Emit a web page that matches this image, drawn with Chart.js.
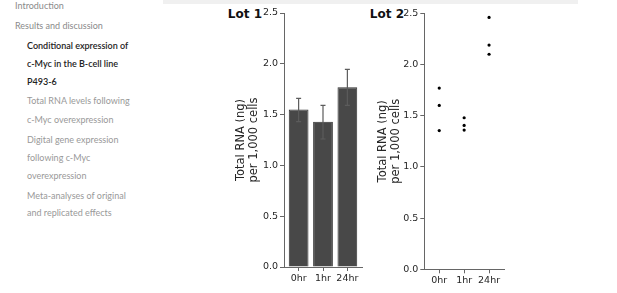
<!DOCTYPE html>
<html><head><meta charset="utf-8">
<script src="https://cdn.jsdelivr.net/npm/chart.js@4.4.0/dist/chart.umd.min.js"></script>
<style>
html,body{margin:0;padding:0;background:#fff;width:617px;height:293px;overflow:hidden;position:relative;font-family:Lato,"Open Sans",sans-serif}
.nav{position:absolute;font-size:9px;white-space:nowrap;line-height:12px;height:12px;margin-top:-6px;color:#999}
.nav.top{left:15px;color:#8a8a8a}
.nav.sub{left:27px}
.nav.act{color:#222;font-weight:600}
.band{position:absolute;left:163px;top:0;width:415px;height:4px;background:#f0f0f0}
.ttl{position:absolute;font-family:"DejaVu Sans";font-weight:bold;font-size:12px;line-height:14px;top:7px;text-align:right;color:#111}
canvas{position:absolute;top:0}
</style></head>
<body>
<div class="band"></div>
<div class="nav top" style="top:6px">Introduction</div>
<div class="nav top" style="top:26px">Results and discussion</div>
<div class="nav sub act" style="top:46px">Conditional expression of</div>
<div class="nav sub act" style="top:64px">c-Myc in the B-cell line</div>
<div class="nav sub act" style="top:82px">P493-6</div>
<div class="nav sub" style="top:101px">Total RNA levels following</div>
<div class="nav sub" style="top:120px">c-Myc overexpression</div>
<div class="nav sub" style="top:140px">Digital gene expression</div>
<div class="nav sub" style="top:158px">following c-Myc</div>
<div class="nav sub" style="top:176px">overexpression</div>
<div class="nav sub" style="top:196px">Meta-analyses of original</div>
<div class="nav sub" style="top:213px">and replicated effects</div>

<div class="ttl" style="right:355px">Lot 1</div>
<div class="ttl" style="right:213px">Lot 2</div>

<canvas id="c1" width="135" height="293" style="left:235px"></canvas>
<canvas id="c2" width="140" height="293" style="left:377px"></canvas>

<script>
const categories = ['0hr', '1hr', '24hr'];
const lot1Means = [1.55, 1.43, 1.77];
const lot1Low = [1.43, 1.26, 1.59];
const lot1High = [1.66, 1.59, 1.945];
const lot2Hr0 = [1.77, 1.60, 1.355];
const lot2Hr1 = [1.48, 1.405, 1.36];
const lot2Hr24 = [2.46, 2.19, 2.10];
const yTicks = [0, 0.5, 1.0, 1.5, 2.0, 2.5];
const yTitle = ['Total RNA (ng)', 'per 1,000 cells'];

const AX = '#666666', TXT = '#262626';

function scalesFor(yW, xH) {
  return {
    x: {
      type: 'linear', min: -0.6, max: 2.6, offset: false,
      afterFit: s => { s.height = xH; },
      afterBuildTicks: s => { s.ticks = categories.map((c, i) => ({value: i})); },
      ticks: {callback: v => categories[v], font: {family: 'DejaVu Sans', size: 9.5}, color: TXT, padding: 2, maxRotation: 0, autoSkip: false},
      grid: {display: true, offset: false, drawOnChartArea: false, drawTicks: true, tickLength: 4, tickColor: AX},
      border: {display: true, color: AX, width: 1}
    },
    y: {
      type: 'linear', min: 0, max: 2.5,
      afterFit: s => { s.width = yW; },
      afterBuildTicks: s => { s.ticks = yTicks.map(v => ({value: v})); },
      ticks: {callback: v => Number(v).toFixed(1), font: {family: 'DejaVu Sans', size: 9.5}, color: TXT, padding: 2},
      grid: {display: true, drawOnChartArea: false, drawTicks: true, tickLength: 4, tickColor: AX},
      border: {display: true, color: AX, width: 1},
      title: {display: true, text: yTitle, font: {family: 'DejaVu Sans', size: 11.5, lineHeight: 1.1}, color: TXT, padding: 0}
    }
  };
}

const errorBars = {
  id: 'errorBars',
  afterDatasetsDraw(chart) {
    const ctx = chart.ctx, xs = chart.scales.x, ys = chart.scales.y;
    ctx.save();
    ctx.strokeStyle = '#5c5c5c';
    ctx.lineWidth = 1.2;
    lot1Means.forEach((m, i) => {
      const x = xs.getPixelForValue(i);
      const y1 = ys.getPixelForValue(lot1Low[i]);
      const y2 = ys.getPixelForValue(lot1High[i]);
      ctx.beginPath();
      ctx.moveTo(x, y1); ctx.lineTo(x, y2);
      ctx.moveTo(x - 2.5, y1); ctx.lineTo(x + 2.5, y1);
      ctx.moveTo(x - 2.5, y2); ctx.lineTo(x + 2.5, y2);
      ctx.stroke();
    });
    ctx.restore();
  }
};

const common = {
  responsive: false, animation: false, devicePixelRatio: 1,
  plugins: {legend: {display: false}, tooltip: {enabled: false}, title: {display: false}}
};

new Chart(document.getElementById('c1'), {
  type: 'bar',
  data: {
    datasets: [{
      data: lot1Means.map((v, i) => ({x: i, y: v})),
      backgroundColor: '#484848', borderColor: '#303030', borderWidth: 1,
      barPercentage: 0.81, categoryPercentage: 1.0
    }]
  },
  options: Object.assign({}, common, {
    layout: {padding: {top: 13, right: 8, bottom: 0, left: 0}},
    scales: scalesFor(49, 26)
  }),
  plugins: [errorBars]
});

new Chart(document.getElementById('c2'), {
  type: 'scatter',
  data: {
    datasets: [{
      data: [].concat(
        lot2Hr0.map(v => ({x: 0, y: v})),
        lot2Hr1.map(v => ({x: 1, y: v})),
        lot2Hr24.map(v => ({x: 2, y: v}))
      ),
      backgroundColor: '#000', borderColor: '#000', borderWidth: 0, pointRadius: 1.6
    }]
  },
  options: Object.assign({}, common, {
    layout: {padding: {top: 13.3, right: 13, bottom: 0, left: 0}},
    scales: scalesFor(47.3, 23.7)
  })
});
</script>
</body></html>
